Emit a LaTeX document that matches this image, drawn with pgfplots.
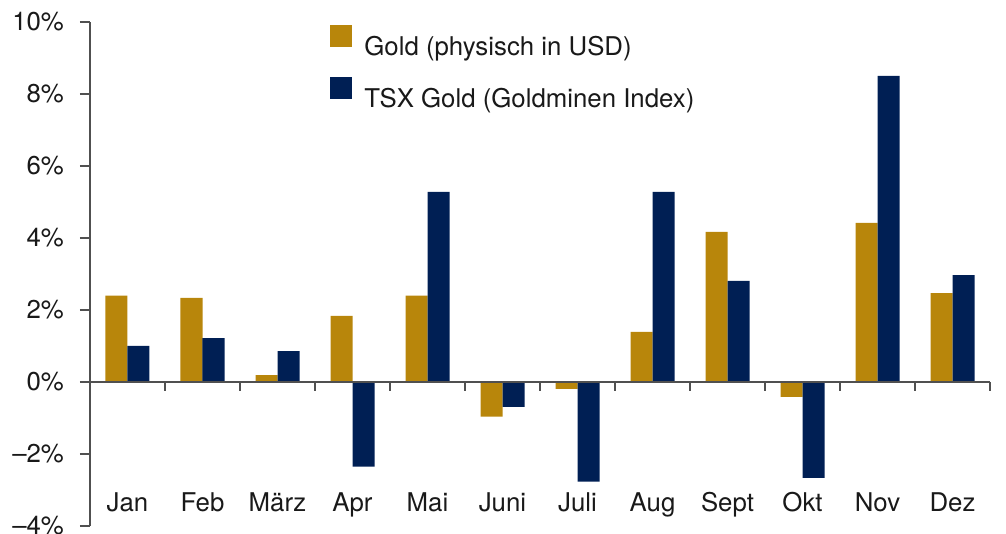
\documentclass[border=0pt]{standalone}
\usepackage{pgfplots}
\pgfplotsset{compat=1.18}
\usepackage{fontspec}
\setmainfont{TeX Gyre Heros}
\usetikzlibrary{calc}
\definecolor{goldc}{RGB}{184,134,11}
\definecolor{navyc}{RGB}{0,31,84}
\definecolor{axisc}{RGB}{80,80,80}
\begin{document}
\begin{tikzpicture}[font=\fontsize{12.9pt}{15pt}\selectfont]
\begin{axis}[
  scale only axis, width=450pt, height=252pt,
  xmin=-0.5, xmax=11.5, ymin=-4, ymax=10,
  ybar=0pt, bar width=11pt,
  axis y line*=left, axis x line*=bottom,
  x axis line style={draw=none},
  xtick={0,...,11},
  xticklabels={Jan,Feb,März,Apr,Mai,Juni,Juli,Aug,Sept,Okt,Nov,Dez},
  xtick style={draw=none},
  xticklabel style={anchor=base, yshift=12pt},
  ytick={-4,-2,...,10},
  yticklabels={--4\%,--2\%,0\%,2\%,4\%,6\%,8\%,10\%},
  yticklabel style={xshift=-4.5pt},
  tick align=outside, major tick length=5pt,
  y axis line style={axisc, line width=0.8pt},
  ytick style={axisc, line width=0.8pt},
  tick label style={text=black!90},
  legend style={at={(0.2667,0.995)}, anchor=north west, draw=none, fill=none,
    row sep=7.5pt, column sep=4pt, inner sep=0pt, text=black!90},
  legend cell align=left,
  legend image code/.code={\fill[#1] (0pt,0pt) rectangle (11pt,11pt);},
  clip=false,
]
\addplot[fill=goldc, draw=none] coordinates {
 (0,2.40) (1,2.34) (2,0.19) (3,1.84) (4,2.40) (5,-0.96)
 (6,-0.19) (7,1.39) (8,4.17) (9,-0.41) (10,4.42) (11,2.47)};
\addlegendentry{Gold (physisch in USD)}
\addplot[fill=navyc, draw=none] coordinates {
 (0,1.00) (1,1.22) (2,0.86) (3,-2.35) (4,5.28) (5,-0.69)
 (6,-2.77) (7,5.28) (8,2.81) (9,-2.66) (10,8.50) (11,2.97)};
\addlegendentry{TSX Gold (Goldminen Index)}
\coordinate (z0) at (axis cs:-0.5,0);
\coordinate (s1) at (axis cs:0.5,0);
\coordinate (s2) at (axis cs:1.5,0);
\coordinate (s3) at (axis cs:2.5,0);
\coordinate (s4) at (axis cs:3.5,0);
\coordinate (s5) at (axis cs:4.5,0);
\coordinate (s6) at (axis cs:5.5,0);
\coordinate (s7) at (axis cs:6.5,0);
\coordinate (s8) at (axis cs:7.5,0);
\coordinate (s9) at (axis cs:8.5,0);
\coordinate (s10) at (axis cs:9.5,0);
\coordinate (s11) at (axis cs:10.5,0);
\coordinate (s12) at (axis cs:11.5,0);
\end{axis}
\draw[axisc, line width=0.8pt] (z0) -- (s12);
\draw[axisc, line width=1pt] (s1) -- ++(0pt,-4.5pt) (s2) -- ++(0pt,-4.5pt)
  (s3) -- ++(0pt,-4.5pt) (s4) -- ++(0pt,-4.5pt) (s5) -- ++(0pt,-4.5pt)
  (s6) -- ++(0pt,-4.5pt) (s7) -- ++(0pt,-4.5pt) (s8) -- ++(0pt,-4.5pt)
  (s9) -- ++(0pt,-4.5pt) (s10) -- ++(0pt,-4.5pt) (s11) -- ++(0pt,-4.5pt)
  (s12) -- ++(0pt,-4.5pt);
\pgfresetboundingbox
\path ($(current axis.south west)+(-45pt,-4pt)$) rectangle ($(current axis.north east)+(8pt,11pt)$);
\end{tikzpicture}
\end{document}
